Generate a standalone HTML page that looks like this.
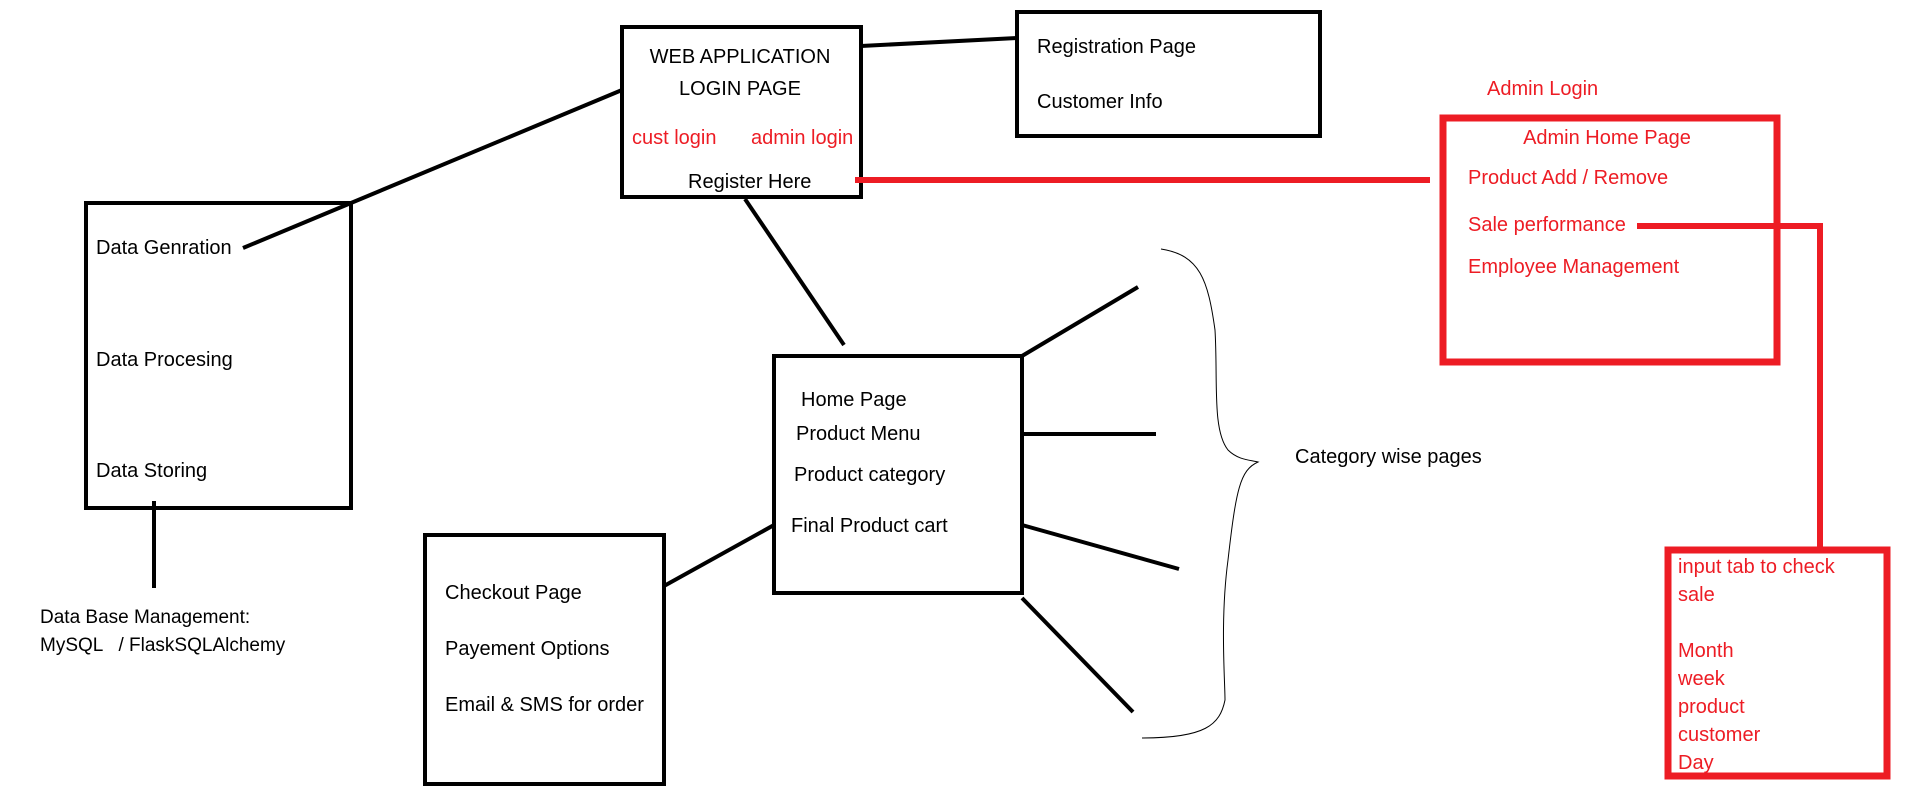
<!DOCTYPE html>
<html><head><meta charset="utf-8"><style>
html,body{margin:0;padding:0;background:#fff;}
svg{display:block;}
text{font-family:"Liberation Sans",sans-serif;font-size:20px;}
.r{fill:#ed1c24;}
</style></head><body>
<svg width="1906" height="810" xmlns="http://www.w3.org/2000/svg">
<g fill="none" stroke="#000" stroke-width="4">
<rect x="622" y="27" width="239" height="170"/>
<rect x="1017" y="12" width="303" height="124"/>
<rect x="86" y="203" width="265" height="305"/>
<rect x="774" y="356" width="248" height="237"/>
<rect x="425" y="535" width="239" height="249"/>
<line x1="243" y1="248" x2="622" y2="90"/>
<line x1="861" y1="46" x2="1017" y2="38"/>
<line x1="154" y1="501" x2="154" y2="588"/>
<line x1="745" y1="199" x2="844" y2="345"/>
<line x1="664" y1="586" x2="774" y2="525"/>
<line x1="1022" y1="356" x2="1138" y2="287"/>
<line x1="1022" y1="434" x2="1156" y2="434"/>
<line x1="1022" y1="525" x2="1179" y2="569"/>
<line x1="1022" y1="598" x2="1133" y2="712"/>
</g>
<path d="M1161 249 C1200 255 1208 280 1215 330 C1218 380 1212 430 1228 450 C1238 460 1250 460 1258 462 C1240 470 1236 490 1228 560 C1220 620 1225 680 1225 700 C1220 725 1205 738 1142 738" fill="none" stroke="#000" stroke-width="1"/>
<g fill="none" stroke="#ed1c24" stroke-width="6">
<line x1="855" y1="180" x2="1430" y2="180"/>
<rect x="1443" y="118" width="334" height="244" stroke-width="7"/>
<polyline points="1637,226 1820,226 1820,547"/>
<rect x="1668" y="550" width="219" height="226" stroke-width="7"/>
</g>
<text x="740" y="63" text-anchor="middle">WEB APPLICATION</text>
<text x="740" y="95" text-anchor="middle">LOGIN PAGE</text>
<text class="r" x="632" y="144">cust login</text>
<text class="r" x="751" y="144">admin login</text>
<text x="688" y="188">Register Here</text>
<text x="1037" y="53">Registration Page</text>
<text x="1037" y="108">Customer Info</text>
<text x="96" y="254">Data Genration</text>
<text x="96" y="366">Data Procesing</text>
<text x="96" y="477">Data Storing</text>
<text x="40" y="623" style="font-size:19px">Data Base Management:</text>
<text x="40" y="651" style="font-size:19px" xml:space="preserve">MySQL   / FlaskSQLAlchemy</text>
<text x="801" y="406">Home Page</text>
<text x="796" y="440">Product Menu</text>
<text x="794" y="481">Product category</text>
<text x="791" y="532">Final Product cart</text>
<text x="445" y="599">Checkout Page</text>
<text x="445" y="655">Payement Options</text>
<text x="445" y="711">Email &amp; SMS for order</text>
<text x="1295" y="463">Category wise pages</text>
<text class="r" x="1487" y="95">Admin Login</text>
<text class="r" x="1607" y="144" text-anchor="middle">Admin Home Page</text>
<text class="r" x="1468" y="184">Product Add / Remove</text>
<text class="r" x="1468" y="231">Sale performance</text>
<text class="r" x="1468" y="273">Employee Management</text>
<text class="r" x="1678" y="573">input tab to check</text>
<text class="r" x="1678" y="601">sale</text>
<text class="r" x="1678" y="657">Month</text>
<text class="r" x="1678" y="685">week</text>
<text class="r" x="1678" y="713">product</text>
<text class="r" x="1678" y="741">customer</text>
<text class="r" x="1678" y="769">Day</text>
</svg>
</body></html>
